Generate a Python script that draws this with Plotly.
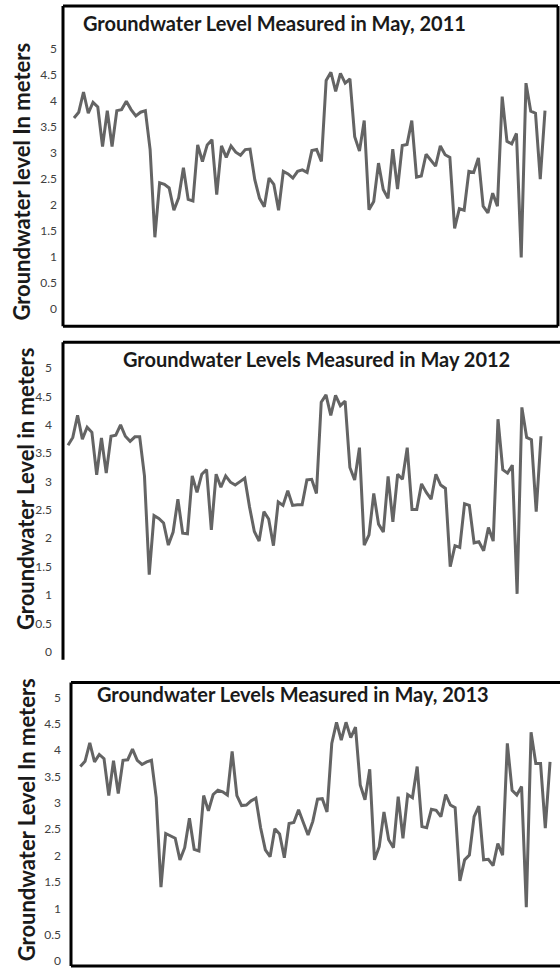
import plotly.graph_objects as go

wells = list(range(1, 101))

level_2011 = [3.67, 3.78, 4.17, 3.76, 3.97, 3.88, 3.12, 3.81, 3.12, 3.81,
              3.83, 3.99, 3.83, 3.71, 3.78, 3.81, 3.06, 1.37, 2.42, 2.39,
              2.32, 1.89, 2.13, 2.71, 2.10, 2.07, 3.15, 2.83, 3.15, 3.25,
              2.19, 3.13, 2.91, 3.13, 3.01, 2.95, 3.06, 3.07, 2.48, 2.12,
              1.96, 2.51, 2.39, 1.89, 2.64, 2.59, 2.51, 2.64, 2.67, 2.62,
              3.04, 3.06, 2.83, 4.39, 4.55, 4.18, 4.53, 4.34, 4.42, 3.31,
              3.03, 3.62, 1.90, 2.06, 2.80, 2.29, 2.12, 3.07, 2.30, 3.14,
              3.16, 3.62, 2.53, 2.55, 2.97, 2.85, 2.74, 3.13, 2.96, 2.91,
              1.54, 1.92, 1.89, 2.64, 2.62, 2.90, 1.97, 1.84, 2.22, 1.97,
              4.08, 3.22, 3.17, 3.37, 0.98, 4.34, 3.80, 3.76, 2.49, 3.81]

level_2012 = [3.64, 3.78, 4.17, 3.75, 3.96, 3.87, 3.12, 3.77, 3.15, 3.80,
              3.82, 4.00, 3.80, 3.71, 3.79, 3.79, 3.10, 1.36, 2.40, 2.35,
              2.27, 1.88, 2.11, 2.69, 2.09, 2.08, 3.10, 2.81, 3.13, 3.21,
              2.15, 3.13, 2.90, 3.10, 2.99, 2.94, 3.00, 3.06, 2.55, 2.12,
              1.95, 2.47, 2.34, 1.87, 2.64, 2.58, 2.84, 2.58, 2.59, 2.59,
              3.03, 3.04, 2.79, 4.40, 4.53, 4.17, 4.52, 4.34, 4.42, 3.25,
              3.03, 3.60, 1.88, 2.06, 2.79, 2.25, 2.11, 3.09, 2.29, 3.13,
              3.04, 3.60, 2.51, 2.51, 2.96, 2.81, 2.69, 3.13, 2.94, 2.88,
              1.50, 1.87, 1.84, 2.61, 2.58, 1.92, 1.94, 1.78, 2.19, 1.95,
              4.10, 3.21, 3.15, 3.29, 1.02, 4.31, 3.78, 3.74, 2.47, 3.80]

level_2013 = [3.69, 3.79, 4.14, 3.78, 3.92, 3.84, 3.14, 3.80, 3.18, 3.81,
              3.82, 4.02, 3.81, 3.73, 3.78, 3.81, 3.10, 1.40, 2.42, 2.38,
              2.33, 1.92, 2.15, 2.71, 2.12, 2.09, 3.14, 2.85, 3.16, 3.24,
              3.21, 3.15, 3.98, 3.14, 2.95, 2.96, 3.04, 3.09, 2.53, 2.11,
              1.98, 2.51, 2.41, 1.96, 2.61, 2.63, 2.87, 2.63, 2.39, 2.65,
              3.07, 3.08, 2.83, 4.13, 4.53, 4.19, 4.53, 4.24, 4.44, 3.34,
              3.06, 3.64, 1.92, 2.17, 2.83, 2.30, 2.15, 3.12, 2.33, 3.16,
              3.10, 3.69, 2.55, 2.53, 2.88, 2.86, 2.74, 3.16, 2.96, 2.91,
              1.52, 1.92, 2.01, 2.74, 2.94, 1.92, 1.93, 1.81, 2.23, 2.01,
              4.13, 3.24, 3.15, 3.31, 1.02, 4.34, 3.75, 3.75, 2.52, 3.78]

titles = ["Groundwater Level Measured in May, 2011",
          "Groundwater Levels Measured in May 2012",
          "Groundwater Levels Measured in May, 2013"]
ytitles = ["Groundwater level In meters",
           "Groundwater Level in meters",
           "Groundwater Level In meters"]
tick_vals = [0, 0.5, 1, 1.5, 2, 2.5, 3, 3.5, 4, 4.5, 5]
tick_text = ["0", "0.5", "1", "1.5", "2", "2.5", "3", "3.5", "4", "4.5", "5"]

W, H = 560, 969
FONT = "Lato"
LINE_COLOR = "#646464"

# panel geometry in pixels: (left, right, top, bottom), x range, y range, tick standoff
panels = [
    dict(box=(63, 558, 6, 327), xr=[-1.31, 102.73], yr=[-0.346, 5.827], standoff=5,
         mirror_x=True, mirror_y=True, title_xy=(274, 23), ytitle_xy=(22, 182)),
    dict(box=(63, 560, 343, 661), xr=[-0.05, 103.98], yr=[-0.141, 5.458], standoff=10,
         mirror_x=False, mirror_y=False, title_xy=(316, 360), ytitle_xy=(26, 490)),
    dict(box=(71, 560, 684, 968), xr=[-0.96, 102.1], yr=[-0.095, 5.284], standoff=9,
         mirror_x=True, mirror_y=False, title_xy=(293, 695), ytitle_xy=(26, 822)),
]
series = [level_2011, level_2012, level_2013]

fig = go.Figure()
layout = dict(width=W, height=H, margin=dict(l=0, r=0, t=0, b=0),
              paper_bgcolor="white", plot_bgcolor="white", showlegend=False,
              font=dict(family=FONT))
annotations = []
shapes = []

for i, (p, vals) in enumerate(zip(panels, series)):
    n = "" if i == 0 else str(i + 1)
    l, r, t, b = p["box"]
    fig.add_trace(go.Scatter(x=wells, y=vals, mode="lines",
                             line=dict(color=LINE_COLOR, width=3),
                             xaxis="x" + n, yaxis="y" + n, hoverinfo="skip"))
    layout["xaxis" + n] = dict(domain=[l / W, r / W], range=p["xr"], anchor="y" + n,
                               showgrid=False, zeroline=False, showticklabels=False,
                               ticks="", showline=False)
    layout["yaxis" + n] = dict(domain=[1 - b / H, 1 - t / H], range=p["yr"], anchor="x" + n,
                               showgrid=False, zeroline=False, tickmode="array",
                               tickvals=tick_vals, ticktext=tick_text, ticks="",
                               ticklabelstandoff=p["standoff"],
                               ticklabeloverflow="allow",
                               tickfont=dict(family=FONT, size=12, color="#404040"),
                               showline=False)
    lw = 3
    shapes.append(dict(type="line", xref="paper", yref="paper",
                       x0=l / W, x1=r / W, y0=1 - t / H, y1=1 - t / H,
                       line=dict(color="black", width=lw)))
    shapes.append(dict(type="line", xref="paper", yref="paper",
                       x0=l / W, x1=l / W, y0=1 - t / H, y1=1 - b / H,
                       line=dict(color="black", width=lw)))
    if p["mirror_x"]:
        shapes.append(dict(type="line", xref="paper", yref="paper",
                           x0=l / W, x1=r / W, y0=1 - b / H, y1=1 - b / H,
                           line=dict(color="black", width=lw)))
    if p["mirror_y"]:
        shapes.append(dict(type="line", xref="paper", yref="paper",
                           x0=r / W, x1=r / W, y0=1 - t / H, y1=1 - b / H,
                           line=dict(color="black", width=lw)))
    tx, ty = p["title_xy"]
    annotations.append(dict(text="<b>" + titles[i] + "</b>", xref="paper", yref="paper",
                            x=tx / W, y=1 - ty / H, xanchor="center", yanchor="middle",
                            showarrow=False, font=dict(family=FONT, size=20, color="#1a1a1a")))
    yx, yy = p["ytitle_xy"]
    annotations.append(dict(text="<b>" + ytitles[i] + "</b>", xref="paper", yref="paper",
                            x=yx / W, y=1 - yy / H, xanchor="center", yanchor="middle",
                            textangle=-90, showarrow=False,
                            font=dict(family=FONT, size=22, color="#1a1a1a")))

layout["annotations"] = annotations
layout["shapes"] = shapes
fig.update_layout(**layout)
fig.write_html("out.html", config={"displayModeBar": False},
               post_script="document.body.style.margin='0';document.body.style.overflow='hidden';")
